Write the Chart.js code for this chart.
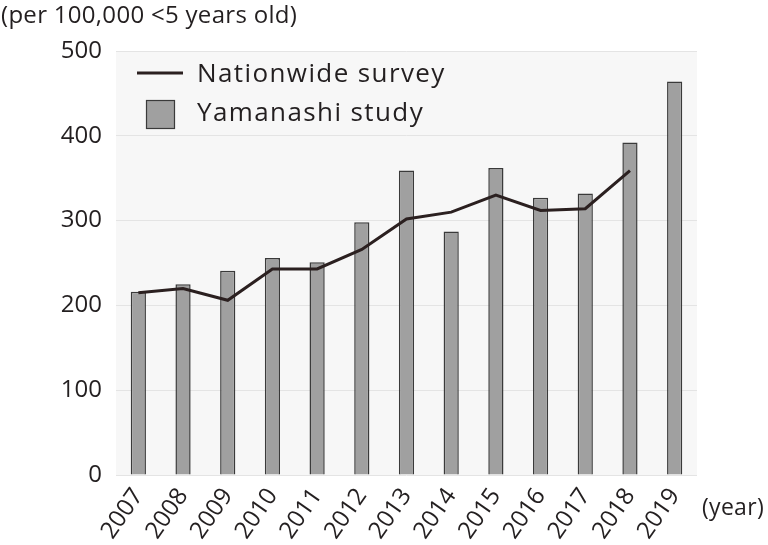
<!DOCTYPE html>
<html>
<head>
<meta charset="utf-8">
<script src="https://cdn.jsdelivr.net/npm/chart.js@4/dist/chart.umd.min.js"></script>
<style>
  body { margin: 0; background: #fff; font-family: "Open Sans", "Noto Sans", sans-serif; }
  #wrap { position: relative; width: 768px; height: 545px; }
  .txt { position: absolute; color: #231f20; white-space: nowrap; }
</style>
</head>
<body>
<div id="wrap">
  <canvas id="chart" width="768" height="545"></canvas>
  <div class="txt" style="left:1px; top:-3px; font-size:24px; letter-spacing:0.3px;">(per 100,000 &lt;5 years old)</div>
  <div class="txt" style="left:702px; top:490px; font-size:23px; letter-spacing:0.3px;">(year)</div>
</div>
<script>
var years = ['2007','2008','2009','2010','2011','2012','2013','2014','2015','2016','2017','2018','2019'];
var yamanashi = [216, 225, 241, 256, 251, 298, 359, 287, 362, 327, 332, 392, 464];
var nationwide = [215, 220, 206, 243, 243, 266, 302, 310, 330, 312, 314, 359, null];

// light grey plot background
var plotBg = {
  id: 'plotBg',
  beforeDraw: function(chart) {
    var a = chart.chartArea, ctx = chart.ctx;
    ctx.save();
    ctx.fillStyle = '#f7f7f7';
    ctx.fillRect(a.left, a.top, a.right - a.left, a.bottom - a.top);
    ctx.restore();
  }
};

// legend drawn inside the plot, top left
var innerLegend = {
  id: 'innerLegend',
  afterDraw: function(chart) {
    var ctx = chart.ctx, a = chart.chartArea;
    var x = a.left + 21, y = a.top + 22;
    ctx.save();
    ctx.font = '26px "Open Sans", "Noto Sans", sans-serif';
    ctx.letterSpacing = '1.4px';
    ctx.fillStyle = '#231f20';
    ctx.textBaseline = 'middle';
    // line sample
    ctx.strokeStyle = '#2b2020';
    ctx.lineWidth = 3;
    ctx.beginPath();
    ctx.moveTo(x, y);
    ctx.lineTo(x + 46, y);
    ctx.stroke();
    ctx.fillText(chart.data.datasets[0].label, x + 60, y + 2);
    // box sample
    ctx.fillStyle = '#a0a0a0';
    ctx.fillRect(x + 9, y + 27, 28, 28);
    ctx.strokeStyle = '#3a3a3a';
    ctx.lineWidth = 1.2;
    ctx.strokeRect(x + 9.5, y + 27.5, 28, 28);
    ctx.fillStyle = '#231f20';
    ctx.fillText(chart.data.datasets[1].label, x + 60, y + 41);
    ctx.restore();
  }
};

new Chart(document.getElementById('chart'), {
  type: 'bar',
  data: {
    labels: years,
    datasets: [{
      type: 'line',
      label: 'Nationwide survey',
      data: nationwide,
      borderColor: '#2b2020',
      borderWidth: 3,
      pointRadius: 0,
      tension: 0,
      order: 0
    }, {
      type: 'bar',
      label: 'Yamanashi study',
      data: yamanashi,
      backgroundColor: '#a0a0a0',
      borderColor: '#3a3a3a',
      borderWidth: 1.5,
      categoryPercentage: 1,
      barPercentage: 0.34,
      order: 1
    }]
  },
  options: {
    responsive: false,
    animation: false,
    layout: { padding: { top: 51, right: 71, left: 0, bottom: 0 } },
    plugins: {
      legend: { display: false },
      tooltip: { enabled: false }
    },
    scales: {
      x: {
        grid: { display: false, drawTicks: false },
        border: { display: false },
        ticks: {
          color: '#231f20',
          font: { size: 24, family: '"Open Sans", "Noto Sans", sans-serif' },
          minRotation: 55,
          maxRotation: 55,
          padding: 8
        },
        afterFit: function(s) { s.height = 70; }
      },
      y: {
        min: 0,
        max: 500,
        grid: { color: '#e4e4e4', drawTicks: false },
        border: { display: false },
        ticks: {
          stepSize: 100,
          color: '#231f20',
          font: { size: 24, family: '"Open Sans", "Noto Sans", sans-serif' },
          padding: 14
        },
        afterFit: function(s) { s.width = 116; }
      }
    }
  },
  plugins: [plotBg, innerLegend]
});
</script>
</body>
</html>
